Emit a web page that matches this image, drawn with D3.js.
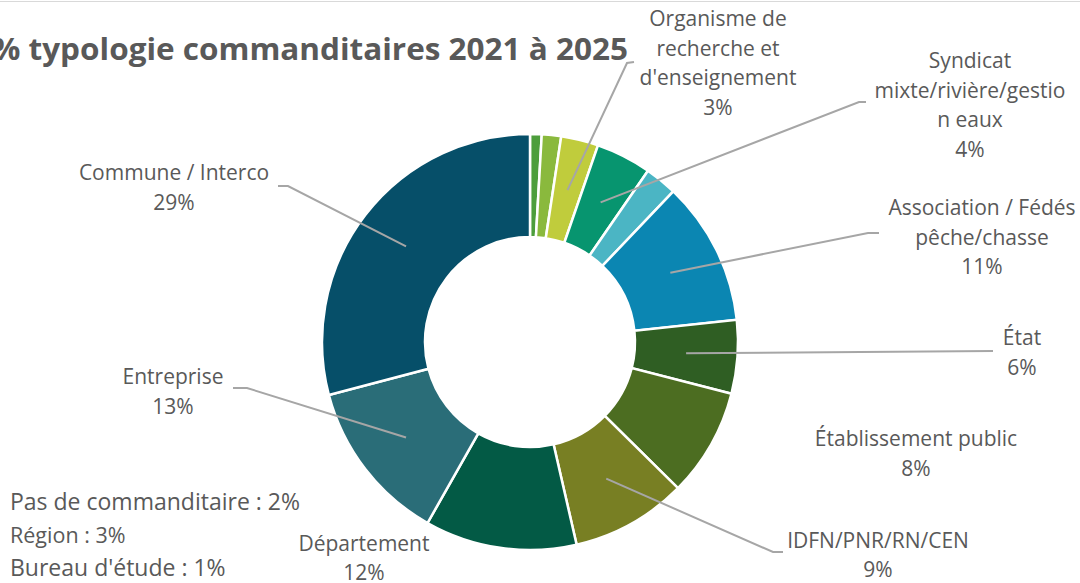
<!DOCTYPE html>
<html>
<head>
<meta charset="utf-8">
<script src="https://cdn.jsdelivr.net/npm/d3@7"></script>
<style>
  body { margin: 0; background: #fff; }
  svg { display: block; font-family: "Open Sans", sans-serif; }
</style>
</head>
<body>
<svg id="chart" width="1080" height="583"></svg>
<script>
// slices, clockwise from 12 o'clock
const categories = [
  "Bureau d'étude",
  "Pas de commanditaire",
  "Organisme de recherche et d'enseignement",
  "Syndicat mixte/rivière/gestion eaux",
  "Région",
  "Association / Fédés pêche/chasse",
  "État",
  "Établissement public",
  "IDFN/PNR/RN/CEN",
  "Département",
  "Entreprise",
  "Commune / Interco"
];
const values = [0.9, 1.5, 2.9, 4.3, 2.5, 11.2, 5.7, 8.4, 9.0, 11.8, 12.7, 29.1];
const colors = [
  "#4d9e3c", "#8ab93d", "#c0cc3c", "#07956f", "#4bb5c4", "#0b86b2",
  "#2f5e23", "#4c6d21", "#787f23", "#035a45", "#2a6d78", "#064f69"
];
// label text lines (null = no label on the ring)
const labelLines = [
  null, null,
  ["Organisme de", "recherche et", "d'enseignement"],
  ["Syndicat", "mixte/rivière/gestio", "n eaux"],
  null,
  ["Association / Fédés", "pêche/chasse"],
  ["État"],
  ["Établissement public"],
  ["IDFN/PNR/RN/CEN"],
  ["Département"],
  ["Entreprise"],
  ["Commune / Interco"]
];
// small slices listed in the corner box
const boxed = ["Pas de commanditaire", "Région", "Bureau d'étude"];

const title = "% typologie commanditaires 2021 à 2025";

// label placement: [x center, y of first line, leader elbow points]
const labelPos = {
  2: { x: 718, y: 18, leader: [[627, 63], [634, 62]] },
  3: { x: 970, y: 60, leader: [[859, 102], [866, 102]] },
  5: { x: 982, y: 207, leader: [[868, 233], [879, 233]] },
  6: { x: 1022, y: 337, leader: [[993, 351]] },
  7: { x: 916, y: 438, leader: null },
  8: { x: 878, y: 540, leader: [[773, 552], [783, 552]] },
  9: { x: 364, y: 543, leader: null },
  10: { x: 173, y: 376, leader: [[247, 388], [233, 388]] },
  11: { x: 174, y: 172, leader: [[288, 186], [278, 186]] }
};

const svg = d3.select("#chart");
const cx = 530, cy = 342;
const rOuter = 208, rInner = 105;
const lineH = 29.5;
const textColor = "#595959";
const total = d3.sum(values);
const pct = v => Math.round(v * 100 / total) + "%";

// chart border at top
svg.append("line")
  .attr("x1", 0).attr("x2", 1080).attr("y1", 1.5).attr("y2", 1.5)
  .attr("stroke", "#d9d9d9").attr("stroke-width", 1);

svg.append("text")
  .attr("x", -8).attr("y", 60)
  .attr("font-size", 30).attr("font-weight", "bold")
  .attr("textLength", 636).attr("lengthAdjust", "spacingAndGlyphs")
  .attr("fill", textColor)
  .text(title);

const pie = d3.pie().sort(null).value(d => d)(values);
const arc = d3.arc().innerRadius(rInner).outerRadius(rOuter);

const g = svg.append("g").attr("transform", `translate(${cx},${cy})`);

g.selectAll("path")
  .data(pie)
  .join("path")
  .attr("d", arc)
  .attr("fill", (d, i) => colors[i])
  .attr("stroke", "#fff")
  .attr("stroke-width", 2.5);

// leader lines
pie.forEach((d, i) => {
  const p = labelPos[i];
  if (!p || !p.leader) return;
  const c = arc.centroid(d);
  const pts = [[cx + c[0], cy + c[1]]].concat(p.leader);
  svg.append("path")
    .attr("d", d3.line()(pts))
    .attr("fill", "none")
    .attr("stroke", "#a6a6a6")
    .attr("stroke-width", 2);
});

// labels
pie.forEach((d, i) => {
  const p = labelPos[i];
  if (!p) return;
  const lines = labelLines[i].concat([pct(values[i])]);
  const step = lines.length === 2 && p.y > 500 ? 28.5 : lineH;
  const t = svg.append("text")
    .attr("text-anchor", "middle")
    .attr("font-size", 21)
    .attr("fill", textColor);
  lines.forEach((s, k) => {
    t.append("tspan")
      .attr("x", p.x)
      .attr("y", p.y + k * step)
      .attr("dominant-baseline", "central")
      .text(s);
  });
});

// corner box for the small slices
boxed.forEach((name, k) => {
  const i = categories.indexOf(name);
  svg.append("text")
    .attr("x", 10).attr("y", 501 + k * 33)
    .attr("dominant-baseline", "central")
    .attr("font-size", name === "Région" ? 21.5 : 23)
    .attr("fill", textColor)
    .text(name + " : " + pct(values[i]));
});
</script>
</body>
</html>
